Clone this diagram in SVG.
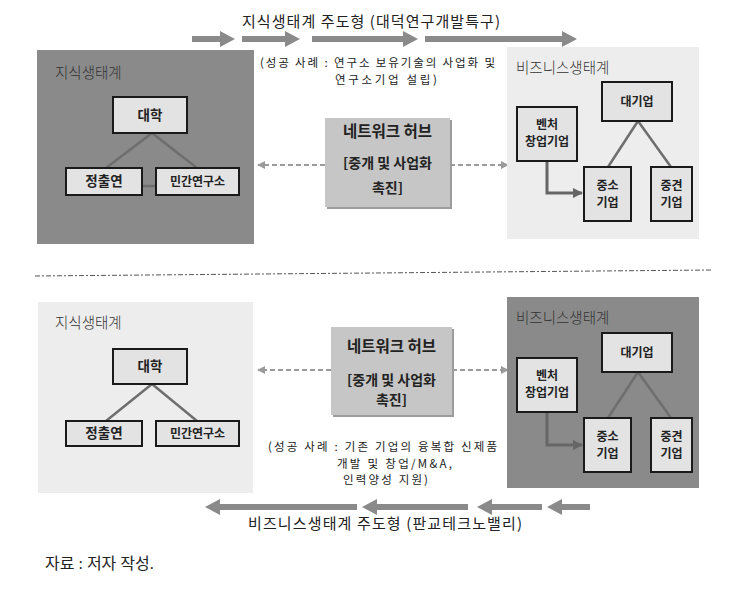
<svg xmlns="http://www.w3.org/2000/svg" width="743" height="598" viewBox="0 0 743 598">
<defs>
<style>
.kr{font-family:"Noto Sans CJK KR","Noto Sans",sans-serif;}
.title{font-size:15px;fill:#222;}
.note{font-size:11.5px;fill:#222;}
.plabel{font-size:14.5px;fill:#333;font-weight:300;}
.box{fill:#e3e3e3;stroke:#1a1a1a;stroke-width:2;}
.bt{font-size:13.5px;font-weight:bold;fill:#222;text-anchor:middle;}
.bts{font-size:12px;font-weight:bold;fill:#222;text-anchor:middle;}
.hub{fill:#c6c6c6;}
.hubsh{fill:#9c9c9c;}
.ht{font-size:15.5px;font-weight:bold;fill:#222;text-anchor:middle;}
.hts{font-size:14px;font-weight:bold;fill:#222;text-anchor:middle;}
.link{stroke:#6e6e6e;stroke-width:2.5;fill:none;}
.dash{stroke:#9a9a9a;stroke-width:2;stroke-dasharray:5 3;fill:none;}
.big{fill:#8a8a8a;}
.flow{stroke:#666;stroke-width:3;fill:none;}
</style>
<marker id="dh" viewBox="0 0 10 10" refX="9" refY="5" markerWidth="4" markerHeight="4" orient="auto-start-reverse">
<path d="M0,0 L10,5 L0,10 z" fill="#9a9a9a"/>
</marker>
<marker id="fh" viewBox="0 0 10 10" refX="9" refY="5" markerWidth="3.5" markerHeight="3.5" orient="auto">
<path d="M0,0 L10,5 L0,10 z" fill="#666"/>
</marker>
</defs>
<rect width="743" height="598" fill="#fff"/>

<!-- TOP SECTION -->
<g id="top-flow">
<polygon class="big" points="192,36 220,36 220,31 235,39 220,47 220,42 192,42"/>
<polygon class="big" points="242,36 285,36 285,31 300,39 285,47 285,42 242,42"/>
<polygon class="big" points="312,36 403,36 403,31 418,39 403,47 403,42 312,42"/>
<polygon class="big" points="425,36 562,36 562,31 577,39 562,47 562,42 425,42"/>
<text class="kr title" x="242" y="27" textLength="258" lengthAdjust="spacing">지식생태계 주도형 (대덕연구개발특구)</text>
<text class="kr note" x="260" y="67" textLength="235" lengthAdjust="spacing">(성공 사례 : 연구소 보유기술의 사업화 및</text>
<text class="kr note" x="335" y="84" textLength="102" lengthAdjust="spacing">연구소기업 설립)</text>
</g>

<g id="top-knowledge">
<rect x="37" y="50" width="217" height="194" fill="#8a8a8a"/>
<text class="kr plabel" x="55" y="78">지식생태계</text>
</g>
<g id="top-connectors">
<line class="link" x1="152" y1="133" x2="106" y2="168"/>
<line class="link" x1="152" y1="133" x2="197" y2="168"/>
<line class="link" x1="142" y1="186" x2="156" y2="186"/>
<line class="dash" x1="325" y1="165" x2="258" y2="165" marker-end="url(#dh)"/>
<line class="dash" x1="450" y1="165" x2="508" y2="165" marker-end="url(#dh)"/>
</g>
<g id="top-univ">
<rect class="box" x="113" y="97" width="74" height="36"/>
<text class="kr bt" x="150" y="120">대학</text>
</g>
<g id="top-gri">
<rect class="box" x="66" y="168" width="76" height="27"/>
<text class="kr bt" x="104" y="186">정출연</text>
</g>
<g id="top-private">
<rect class="box" x="156" y="168" width="83" height="27"/>
<text class="kr bts" x="197.5" y="186">민간연구소</text>
</g>
<g id="top-hub">
<rect class="hubsh" x="327" y="120" width="125" height="89"/>
<rect class="hub" x="325" y="118" width="125" height="89"/>
<text class="kr ht" x="387.5" y="137">네트워크 허브</text>
<text class="kr hts" x="387.5" y="168">[중개 및 사업화</text>
<text class="kr hts" x="387.5" y="193">촉진]</text>
</g>
<g id="top-business">
<rect x="507" y="47" width="192" height="192" fill="#ededed"/>
<text class="kr plabel" x="516" y="73">비즈니스생태계</text>
</g>
<g id="top-biz-connectors">
<line class="link" x1="638" y1="121" x2="608" y2="167"/>
<line class="link" x1="638" y1="121" x2="671" y2="167"/>
<polyline class="flow" points="547,161 547,193 582,193" marker-end="url(#fh)"/>
</g>
<g id="top-large">
<rect class="box" x="602" y="82" width="70" height="39"/>
<text class="kr bts" x="637" y="106">대기업</text>
</g>
<g id="top-venture">
<rect class="box" x="517" y="107" width="60" height="54"/>
<text class="kr bts" x="547" y="129">벤처</text>
<text class="kr bts" x="547" y="146">창업기업</text>
</g>
<g id="top-sme">
<rect class="box" x="584" y="167" width="47" height="54"/>
<text class="kr bts" x="607.5" y="190">중소</text>
<text class="kr bts" x="607.5" y="207">기업</text>
</g>
<g id="top-mid">
<rect class="box" x="651" y="167" width="41" height="54"/>
<text class="kr bts" x="671.5" y="190">중견</text>
<text class="kr bts" x="671.5" y="207">기업</text>
</g>

<!-- separator -->
<line x1="35" y1="276" x2="713" y2="270" stroke="#555" stroke-width="1" stroke-dasharray="5 2 2 2"/>

<!-- BOTTOM SECTION -->
<g id="bot-knowledge">
<rect x="38" y="302" width="215" height="191" fill="#ededed"/>
<text class="kr plabel" x="55" y="328">지식생태계</text>
</g>
<g id="bot-connectors">
<line class="link" x1="152" y1="384" x2="106" y2="421"/>
<line class="link" x1="152" y1="384" x2="197" y2="421"/>
<line class="dash" x1="331" y1="370" x2="258" y2="370" marker-end="url(#dh)"/>
<line class="dash" x1="452" y1="370" x2="508" y2="370" marker-end="url(#dh)"/>
</g>
<g id="bot-univ">
<rect class="box" x="113" y="349" width="74" height="35"/>
<text class="kr bt" x="150" y="371">대학</text>
</g>
<g id="bot-gri">
<rect class="box" x="66" y="421" width="76" height="25"/>
<text class="kr bt" x="104" y="438">정출연</text>
</g>
<g id="bot-private">
<rect class="box" x="156" y="421" width="83" height="25"/>
<text class="kr bts" x="197.5" y="438">민간연구소</text>
</g>
<g id="bot-hub">
<rect class="hubsh" x="333" y="329" width="121" height="88"/>
<rect class="hub" x="331" y="327" width="121" height="88"/>
<text class="kr ht" x="391.5" y="352">네트워크 허브</text>
<text class="kr hts" x="391.5" y="385">[중개 및 사업화</text>
<text class="kr hts" x="391.5" y="405">촉진]</text>
</g>
<g id="bot-business">
<rect x="507" y="297" width="192" height="191" fill="#8a8a8a"/>
<text class="kr plabel" x="516" y="323">비즈니스생태계</text>
</g>
<g id="bot-biz-connectors">
<line class="link" x1="638" y1="372" x2="608" y2="418"/>
<line class="link" x1="638" y1="372" x2="671" y2="418"/>
<polyline class="flow" points="547,412 547,445 582,445" marker-end="url(#fh)"/>
</g>
<g id="bot-large">
<rect class="box" x="602" y="333" width="70" height="39"/>
<text class="kr bts" x="637" y="357">대기업</text>
</g>
<g id="bot-venture">
<rect class="box" x="517" y="358" width="60" height="54"/>
<text class="kr bts" x="547" y="380">벤처</text>
<text class="kr bts" x="547" y="397">창업기업</text>
</g>
<g id="bot-sme">
<rect class="box" x="584" y="418" width="47" height="54"/>
<text class="kr bts" x="607.5" y="441">중소</text>
<text class="kr bts" x="607.5" y="458">기업</text>
</g>
<g id="bot-mid">
<rect class="box" x="651" y="418" width="41" height="54"/>
<text class="kr bts" x="671.5" y="441">중견</text>
<text class="kr bts" x="671.5" y="458">기업</text>
</g>

<g id="bottom-flow">
<text class="kr note" x="268" y="451" textLength="229" lengthAdjust="spacing">(성공 사례 : 기존 기업의 융복합 신제품</text>
<text class="kr note" x="337" y="467.5" textLength="115" lengthAdjust="spacing">개발 및 창업/M&amp;A,</text>
<text class="kr note" x="343" y="484" textLength="85" lengthAdjust="spacing">인력양성 지원)</text>
<polygon class="big" points="357,504 220,504 220,499 205,507 220,515 220,510 357,510"/>
<polygon class="big" points="468,504 377,504 377,499 362,507 377,515 377,510 468,510"/>
<polygon class="big" points="542,504 492,504 492,499 477,507 492,515 492,510 542,510"/>
<polygon class="big" points="590,504 562,504 562,499 547,507 562,515 562,510 590,510"/>
<text class="kr title" x="248" y="529" textLength="274" lengthAdjust="spacing">비즈니스생태계 주도형 (판교테크노밸리)</text>
</g>

<text x="45" y="569" font-family="'Liberation Serif','Noto Sans CJK KR',serif" font-size="16" fill="#222">자료 : 저자 작성.</text>
</svg>
